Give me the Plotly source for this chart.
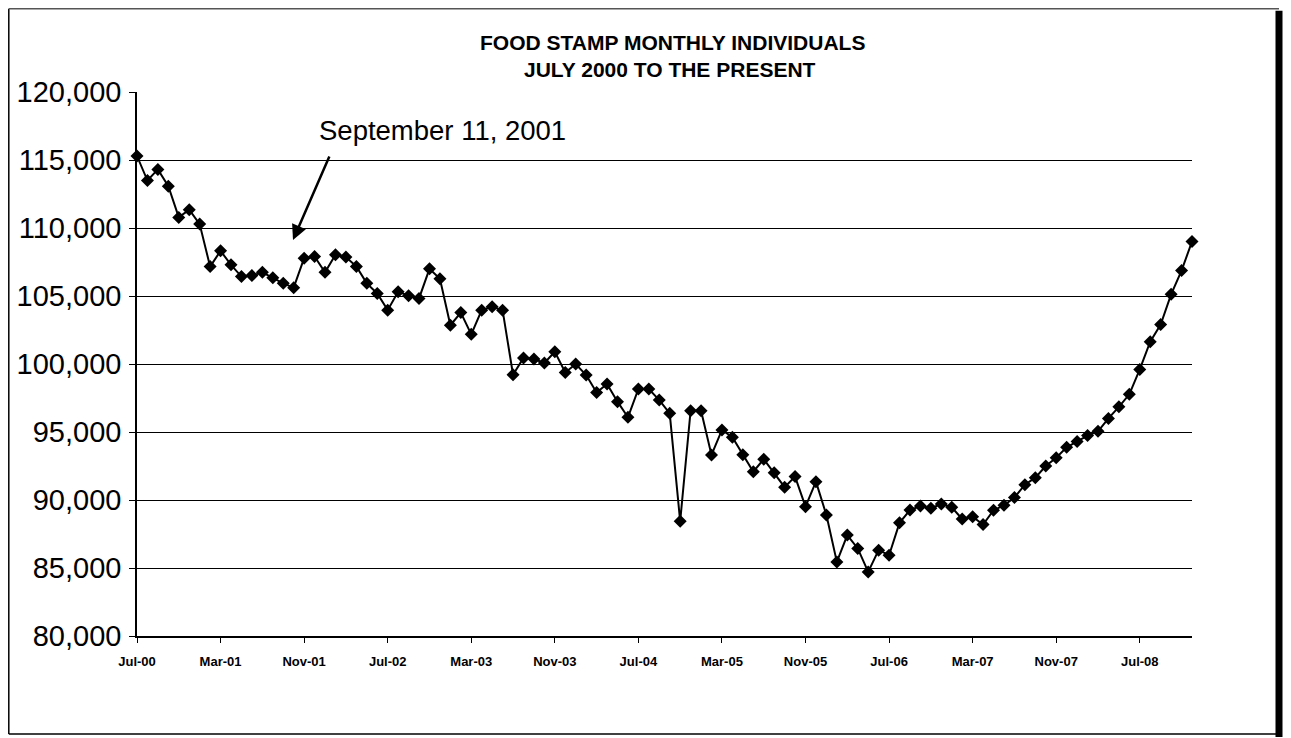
import plotly.graph_objects as go

# Monthly food stamp individuals, Jul-2000 .. Dec-2008
individuals = [
    115290, 113490, 114310, 113070, 110780, 111350, 110290, 107160, 108320, 107290,
    106430, 106500, 106740, 106350, 105930, 105610, 107780, 107900, 106740, 108030,
    107860, 107170, 105930, 105190, 103960, 105320, 105020, 104820, 107000, 106260,
    102850, 103780, 102180, 103960, 104210, 103960, 99210, 100450, 100370, 100070,
    100900, 99380, 100000, 99190, 97910, 98530, 97230, 96080, 98160, 98160,
    97350, 96370, 88430, 96570, 96570, 93310, 95150, 94610, 93330, 92080,
    93000, 92010, 90940, 91720, 89510, 91350, 88890, 85450, 87420, 86440,
    84710, 86310, 85940, 88320, 89260, 89560, 89390, 89700, 89460, 88600,
    88770, 88200, 89250, 89610, 90180, 91130, 91640, 92500, 93110, 93870,
    94300, 94740, 95050, 96000, 96850, 97770, 99600, 101640, 102900, 105120,
    106870, 109000,
]

tick_labels = ["Jul-00", "Mar-01", "Nov-01", "Jul-02", "Mar-03", "Nov-03", "Jul-04",
               "Mar-05", "Nov-05", "Jul-06", "Mar-07", "Nov-07", "Jul-08"]

title_lines = ["FOOD STAMP MONTHLY INDIVIDUALS", "JULY 2000 TO THE PRESENT"]
event_label = "September 11, 2001"

month_index = list(range(len(individuals)))
tick_positions = [i * 8 for i in range(len(tick_labels))]

FONT = "Liberation Sans, Arial, sans-serif"

# page body has an 8px margin; work in page pixels and shift
OFF = 8
W, H = 1291 - OFF, 738 - OFF
L, R, T, B = 137 - OFF, 1192 - OFF, 92 - OFF, 636 - OFF


def px_x(px):
    return (px - OFF - L) / (R - L)


def px_y(py):
    return (B - (py - OFF)) / (B - T)


fig = go.Figure()
fig.add_trace(go.Scatter(
    x=month_index, y=individuals, mode="lines+markers",
    line=dict(color="black", width=2),
    marker=dict(symbol="diamond", size=10, color="black"),
    cliponaxis=False, showlegend=False,
))

left_b, right_b, top_b, bot_b = OFF + 0.8, 1279, OFF + 0.8, 734
shapes = [
    dict(type="line", xref="paper", yref="paper", x0=px_x(left_b), x1=px_x(left_b),
         y0=px_y(top_b), y1=px_y(bot_b), line=dict(color="black", width=1.5)),
    dict(type="line", xref="paper", yref="paper", x0=px_x(left_b), x1=px_x(right_b),
         y0=px_y(top_b), y1=px_y(top_b), line=dict(color="#555555", width=1.5)),
    dict(type="line", xref="paper", yref="paper", x0=px_x(left_b), x1=px_x(right_b),
         y0=px_y(bot_b), y1=px_y(bot_b), line=dict(color="black", width=1.5)),
    dict(type="line", xref="paper", yref="paper", x0=px_x(right_b), x1=px_x(right_b),
         y0=px_y(top_b + 2), y1=px_y(737), line=dict(color="black", width=7)),
]

annotations = [
    dict(text="<b>" + title_lines[0] + "</b>", xref="paper", yref="paper",
         x=px_x(672), y=px_y(42), xanchor="center", yanchor="middle", showarrow=False,
         font=dict(family=FONT, size=21, color="black")),
    dict(text="<b>" + title_lines[1] + "</b>", xref="paper", yref="paper",
         x=px_x(670), y=px_y(70), xanchor="center", yanchor="middle", showarrow=False,
         font=dict(family=FONT, size=21, color="black")),
    dict(text=event_label, xref="paper", yref="paper",
         x=px_x(442), y=px_y(131), xanchor="center", yanchor="middle", showarrow=False,
         font=dict(family=FONT, size=27.5, color="black")),
    dict(text="", xref="paper", yref="paper", x=px_x(293), y=px_y(240),
         axref="pixel", ayref="pixel", ax=330 - 293, ay=155 - 240,
         showarrow=True, arrowhead=2, arrowsize=1.2, arrowwidth=2.5, arrowcolor="black",
         standoff=0, startstandoff=0),
]

fig.update_layout(
    width=W, height=H,
    margin=dict(l=L, r=W - R, t=T, b=H - B, autoexpand=False),
    paper_bgcolor="white", plot_bgcolor="white",
    shapes=shapes, annotations=annotations,
    font=dict(family=FONT, color="black"),
)

fig.update_xaxes(
    range=[0, len(individuals) - 1],
    tickvals=tick_positions, ticktext=tick_labels,
    tickfont=dict(family=FONT, size=13, color="black", weight="bold"),
    ticks="outside", ticklen=5, tickcolor="black", tickwidth=1,
    showline=True, linecolor="black", linewidth=1.5,
    showgrid=False, zeroline=False, ticklabelstandoff=8,
)
fig.update_yaxes(
    range=[80000, 120000], dtick=5000, tickformat=",d",
    tickfont=dict(family=FONT, size=29, color="black"),
    ticks="outside", ticklen=6, tickcolor="black", tickwidth=1,
    showline=True, linecolor="black", linewidth=1.5,
    showgrid=True, gridcolor="black", gridwidth=1,
    zeroline=False, ticklabelstandoff=2,
)

fig.write_html("out.html")
